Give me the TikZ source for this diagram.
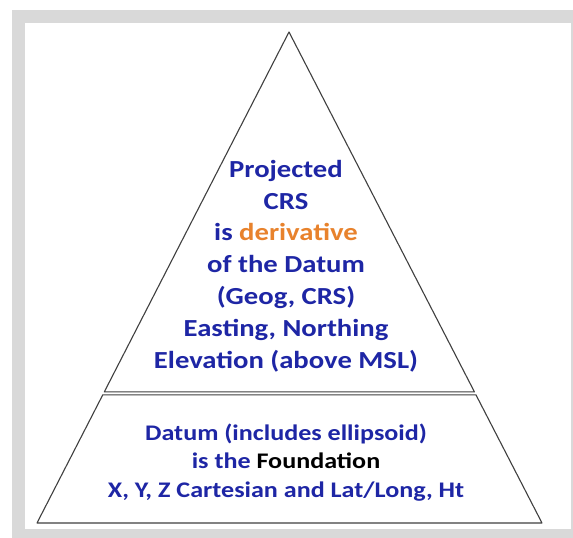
\documentclass[tikz,border=0pt]{standalone}
\usepackage{fontspec}
\setmainfont[FakeStretch=1.17]{Carlito}
\usetikzlibrary{calc}
\definecolor{crsblue}{RGB}{30,38,165}
\definecolor{crsorange}{RGB}{232,130,44}
\definecolor{framegray}{RGB}{217,217,217}
\begin{document}
\begin{tikzpicture}[
  x=1pt, y=-1pt,
  every node/.style={align=center, anchor=base, inner sep=0pt, text=crsblue},
  upper/.style={font=\bfseries\fontsize{24.5}{31.8}\selectfont},
  lower/.style={font=\bfseries\fontsize{22.3}{28.5}\selectfont},
  edge/.style={draw=black!75, line width=1.1pt, line join=round}
]
  \useasboundingbox (0,0) rectangle (573,538);
  % frame
  \fill[framegray] (12,10) rectangle (573,538);
  \fill[white] (25,23) rectangle (571,529);
  % pyramid corners
  \coordinate (apex) at (289,32);
  \coordinate (bl) at (37,523);
  \coordinate (br) at (542,523);
  \coordinate (ul) at ($(apex)!0.733!(bl)$);
  \coordinate (ur) at ($(apex)!0.733!(br)$);
  \coordinate (ll) at ($(apex)!0.739!(bl)$);
  \coordinate (lr) at ($(apex)!0.739!(br)$);
  \draw[edge] (apex) -- (ur) -- (ul) -- cycle;
  \draw[edge] (ll) -- (lr) -- (br) -- (bl) -- cycle;
  % texts (base = last line)
  \node[upper] (proj) at (286,368) {Projected\\CRS\\is \textcolor{crsorange}{derivative}\\of the Datum\\(Geog, CRS)\\Easting, Northing\\Elevation (above MSL)};
  \node[lower] (datum) at (286,497) {Datum (includes ellipsoid)\\is the \textcolor{black}{Foundation}\\X, Y, Z Cartesian and Lat/Long, Ht};
\end{tikzpicture}
\end{document}
